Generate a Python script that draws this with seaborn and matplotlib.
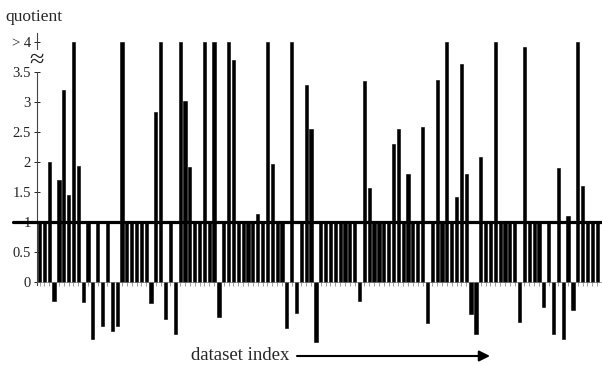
import numpy as np
import pandas as pd
import matplotlib
matplotlib.use("Agg")
import matplotlib.pyplot as plt
import seaborn as sns

# ---- data ----
quotients = [
    1, 1, 2.0, -0.32, 1.7, 3.2, 1.45, 4, 1.93, -0.33,
    1, -0.95, 1, -0.73, 1, -0.82, -0.73, 4, 1, 1,
    1, 1, 1, -0.35, 2.83, 4, -0.62, 1, -0.87, 4,
    3.02, 1.92, 1, 1, 4, 1, 4, -0.58, 1, 4,
    3.7, 1, 1, 1, 1, 1.13, 1, 4, 1.97, 1,
    1, -0.77, 4, -0.52, 1, 3.28, 2.55, -1.0, 1, 1,
    1, 1, 1, 1, 1, 1, -0.32, 3.35, 1.57, 1,
    1, 1, 1, 2.3, 2.55, 1, 1.8, 1, 1, 2.58,
    -0.68, 1, 3.37, 1, 4, 1, 1.42, 3.63, 1.8, -0.53,
    -0.87, 2.08, 1, 1, 4, 1, 1, 1, 1, -0.67,
    3.92, 1, 1, 1, -0.42, 1, -0.87, 1.9, -0.95, 1.1,
    -0.47, 4, 1.6, 1, 1, 1,
]
dataset_index = list(range(len(quotients)))
ytick_values = [0, 0.5, 1, 1.5, 2, 2.5, 3, 3.5, 4]
ytick_labels = ["0", "0.5", "1", "1.5", "2", "2.5", "3", "3.5", "> 4"]

df = pd.DataFrame({"idx": dataset_index, "q": quotients})

sns.set_style("white")
plt.rcParams["font.family"] = ["Liberation Serif", "DejaVu Serif"]

W, H = 602, 365
fig = plt.figure(figsize=(W / 100, H / 100), dpi=100)
ax = fig.add_axes([37 / W, 17 / H, (W - 37) / W, 318 / H])

sns.barplot(data=df, x="idx", y="q", color="black", width=0.66,
            linewidth=0.4, edgecolor="black", saturation=1, ax=ax)

ax.set_xlim(-0.52, 116.0)
ax.set_ylim(-1.1, 4.2)

# reference line at quotient 1
ax.plot([-5.5, 117], [1, 1], color="black", lw=2.3, clip_on=False, zorder=5)

# axes styling
for s in ["top", "right"]:
    ax.spines[s].set_visible(False)
ax.spines["left"].set_bounds(-0.05, 4.15)
ax.spines["left"].set_linewidth(0.8)
ax.spines["left"].set_color("#444444")
ax.spines["bottom"].set_position(("data", 0))
ax.spines["bottom"].set_linewidth(0.5)
ax.spines["bottom"].set_color("#777777")

ax.set_yticks(ytick_values)
ax.set_yticklabels(ytick_labels, fontsize=10.5)
ax.tick_params(axis="y", direction="inout", length=5, width=0.7, pad=2,
               colors="#222222", left=True)
ax.set_xticks(dataset_index)
ax.set_xticklabels([])
ax.tick_params(axis="x", direction="out", length=3, width=0.5,
               colors="#777777", bottom=True)
ax.set_xlabel("")
ax.set_ylabel("")

# axis break mark
ax.text(-0.52, 3.68, "\u2248", ha="center", va="center", fontsize=19,
        color="#222222", zorder=6,
        bbox=dict(facecolor="white", edgecolor="none", pad=0))

fig.text(5 / W, 1 - 17 / H, "quotient", ha="left", va="center", fontsize=12.5)
fig.text(240 / W, 1 - 355 / H, "dataset index", ha="center", va="center",
         fontsize=13.5)
ax.annotate("", xy=(490 / W, 1 - 356 / H), xytext=(297 / W, 1 - 356 / H),
            xycoords="figure fraction", textcoords="figure fraction",
            arrowprops=dict(arrowstyle="-|>", lw=1.5, color="black",
                            mutation_scale=16, shrinkA=0, shrinkB=0))

fig.savefig("out.png", dpi=100)
